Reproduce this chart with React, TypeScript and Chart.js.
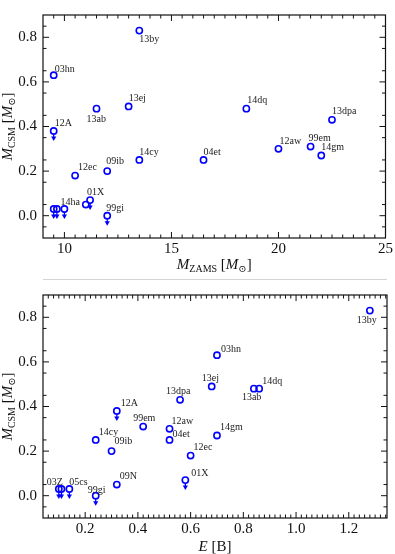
import React, { useEffect, useRef } from "react";
import { Chart, registerables } from "chart.js";
Chart.register(...registerables);

// ---------- data ----------
// Top panel: M_ZAMS vs M_CSM
const topNames = ["13by", "03hn", "13ab", "13ej", "12A", "14dq", "13dpa", "12aw", "99em", "14gm", "04et", "14cy", "09ib", "12ec", "01X", "", "99gi", "", "", "14ha"];
const topMzams = [13.5, 9.5, 11.5, 13.0, 9.5, 18.5, 22.5, 20.0, 21.5, 22.0, 16.5, 13.5, 12.0, 10.5, 11.2, 11.0, 12.0, 9.5, 9.65, 10.0];
const topMcsm = [0.83, 0.63, 0.48, 0.49, 0.38, 0.48, 0.43, 0.30, 0.31, 0.27, 0.25, 0.25, 0.20, 0.18, 0.07, 0.05, 0.0, 0.03, 0.03, 0.03];
const topUpperLimit = [false, false, false, false, true, false, false, false, false, false, false, false, false, false, true, false, true, true, true, true];

// Bottom panel: E vs M_CSM
const botNames = ["13by", "03hn", "13ej", "13ab", "14dq", "13dpa", "12A", "99em", "12aw", "04et", "14cy", "09ib", "12ec", "14gm", "01X", "09N", "99gi", "03Z", "", "05cs"];
const botEnergy = [1.28, 0.70, 0.68, 0.84, 0.86, 0.56, 0.32, 0.42, 0.52, 0.52, 0.24, 0.30, 0.60, 0.70, 0.58, 0.32, 0.24, 0.10, 0.11, 0.14];
const botMcsm = [0.83, 0.63, 0.49, 0.48, 0.48, 0.43, 0.38, 0.31, 0.30, 0.25, 0.25, 0.20, 0.18, 0.27, 0.07, 0.05, 0.0, 0.03, 0.03, 0.03];
const botUpperLimit = [false, false, false, false, false, false, true, false, false, false, false, false, false, false, true, false, true, true, true, true];

// Axis ticks
const topXTicks = [10, 15, 20, 25];
const botXTicks = [0.2, 0.4, 0.6, 0.8, 1.0, 1.2];
const yTicks = [0.0, 0.2, 0.4, 0.6, 0.8];

// ---------- styles (label placement offsets in px: text left, baseline) ----------
const topLabelOffsets: [number, number][] = [
  [0, 11], [1, -3], [-10, 13], [0, -5], [1, -5], [1, -6], [0, -6], [1, -5], [-2, -6], [0, -5],
  [0, -5], [0, -5], [-1, -7], [3, -6], [-3, -5], [0, 0], [-1, -5], [0, 0], [0, 0], [-4, -4],
];
const botLabelOffsets: [number, number][] = [
  [-13, 12], [4, -3], [-10, -5], [-12, 11], [3, -5], [-14, -6], [4, -5], [-10, -6], [2, -5], [3, -3],
  [3, -5], [3, -7], [3, -6], [3, -5], [6, -4], [3, -6], [-8, -3], [-12, -4], [0, 0], [0, -4],
];

const SERIF = "'Liberation Serif', 'DejaVu Serif', serif";
const BLUE = "#0000ff";
const INK = "#111111";

type Seg = { t: string; italic?: boolean; size: number; dy?: number };

function range(a: number, b: number, step: number): number[] {
  const out: number[] = [];
  const n = Math.round((b - a) / step);
  for (let i = 0; i <= n; i++) out.push(+(a + i * step).toFixed(6));
  return out;
}

function drawSegs(ctx: CanvasRenderingContext2D, segs: Seg[], cx: number, baseline: number) {
  let total = 0;
  const widths = segs.map((s) => {
    ctx.font = `${s.italic ? "italic " : ""}${s.size}px ${SERIF}`;
    const w = ctx.measureText(s.t).width;
    total += w;
    return w;
  });
  let x = cx - total / 2;
  ctx.textAlign = "left";
  ctx.textBaseline = "alphabetic";
  ctx.fillStyle = INK;
  segs.forEach((s, i) => {
    ctx.font = `${s.italic ? "italic " : ""}${s.size}px ${SERIF}`;
    ctx.fillText(s.t, x, baseline + (s.dy || 0));
    x += widths[i];
  });
}

const decorPlugin = {
  id: "decor",
  afterDatasetsDraw(chart: any) {
    const o = chart.options.plugins.decor;
    const ctx: CanvasRenderingContext2D = chart.ctx;
    const { left, right, top, bottom } = chart.chartArea;
    const xs = chart.scales.x;
    const ys = chart.scales.y;
    const meta = chart.getDatasetMeta(0);

    ctx.save();
    // upper-limit arrows
    ctx.strokeStyle = BLUE;
    ctx.fillStyle = BLUE;
    ctx.lineWidth = 1.3;
    o.limits.forEach((lim: boolean, i: number) => {
      if (!lim) return;
      const p = meta.data[i];
      ctx.beginPath();
      ctx.moveTo(p.x, p.y + 3);
      ctx.lineTo(p.x, p.y + 6.5);
      ctx.stroke();
      ctx.beginPath();
      ctx.moveTo(p.x - 2.6, p.y + 5.5);
      ctx.lineTo(p.x + 2.6, p.y + 5.5);
      ctx.lineTo(p.x, p.y + 10);
      ctx.closePath();
      ctx.fill();
    });

    // point labels
    ctx.font = `10px ${SERIF}`;
    ctx.fillStyle = "#222";
    ctx.textAlign = "left";
    ctx.textBaseline = "alphabetic";
    o.names.forEach((n: string, i: number) => {
      if (!n) return;
      const p = meta.data[i];
      const [dx, dy] = o.offsets[i];
      ctx.fillText(n, p.x + dx, p.y + dy);
    });

    // frame
    ctx.strokeStyle = INK;
    ctx.lineWidth = 1.2;
    ctx.strokeRect(left, top, right - left, bottom - top);

    // ticks (inward, all four sides)
    ctx.lineWidth = 1;
    const tick = (vals: number[], len: number, horizontal: boolean) => {
      vals.forEach((v) => {
        ctx.beginPath();
        if (horizontal) {
          const px = xs.getPixelForValue(v);
          if (px < left - 0.5 || px > right + 0.5) return;
          ctx.moveTo(px, bottom);
          ctx.lineTo(px, bottom - len);
          ctx.moveTo(px, top);
          ctx.lineTo(px, top + len);
        } else {
          const py = ys.getPixelForValue(v);
          if (py < top - 0.5 || py > bottom + 0.5) return;
          ctx.moveTo(left, py);
          ctx.lineTo(left + len, py);
          ctx.moveTo(right, py);
          ctx.lineTo(right - len, py);
        }
        ctx.stroke();
      });
    };
    tick(o.xMajor, 6, true);
    tick(o.xMinor, 3.5, true);
    tick(yTicks, 6, false);
    tick(range(-0.05, 0.85, 0.1), 3.5, false);

    // axis titles
    drawSegs(ctx, o.xTitle, (left + right) / 2, o.xTitleBaseline);
    ctx.save();
    ctx.translate(12, (top + bottom) / 2);
    ctx.rotate(-Math.PI / 2);
    drawSegs(ctx, o.yTitle, 0, 0);
    ctx.restore();

    ctx.restore();
  },
};

const yTitle: Seg[] = [
  { t: "M", italic: true, size: 15 },
  { t: "CSM", size: 10, dy: 2.5 },
  { t: " [", size: 15 },
  { t: "M", italic: true, size: 15 },
  { t: "⊙", size: 10, dy: 2.5 },
  { t: "]", size: 15 },
];
const topXTitle: Seg[] = [
  { t: "M", italic: true, size: 15 },
  { t: "ZAMS", size: 10, dy: 2.5 },
  { t: " [", size: 15 },
  { t: "M", italic: true, size: 15 },
  { t: "⊙", size: 10, dy: 2.5 },
  { t: "]", size: 15 },
];
const botXTitle: Seg[] = [
  { t: "E", italic: true, size: 15 },
  { t: " [B]", size: 15 },
];

function buildConfig(p: {
  xs: number[];
  ys: number[];
  names: string[];
  offsets: [number, number][];
  limits: boolean[];
  xMin: number;
  xMax: number;
  xMajor: number[];
  xMinor: number[];
  xFmt: (v: number) => string;
  xTitle: Seg[];
  xTitleBaseline: number;
  xAxisHeight: number;
}): any {
  return {
    type: "scatter",
    data: {
      datasets: [
        {
          data: p.xs.map((x, i) => ({ x, y: p.ys[i] })),
          pointStyle: "circle",
          pointRadius: 3.1,
          pointBorderWidth: 1.6,
          pointBorderColor: BLUE,
          pointBackgroundColor: "rgba(255,255,255,0)",
          showLine: false,
        },
      ],
    },
    options: {
      animation: false,
      responsive: false,
      maintainAspectRatio: false,
      layout: { padding: { top: 1, right: 8, left: 0, bottom: 0 } },
      plugins: {
        legend: { display: false },
        tooltip: { enabled: false },
        decor: {
          names: p.names,
          offsets: p.offsets,
          limits: p.limits,
          xMajor: p.xMajor,
          xMinor: p.xMinor,
          xTitle: p.xTitle,
          yTitle,
          xTitleBaseline: p.xTitleBaseline,
        },
      },
      scales: {
        x: {
          type: "linear",
          min: p.xMin,
          max: p.xMax,
          grid: { display: false, drawTicks: false },
          border: { display: false },
          afterBuildTicks: (s: any) => {
            s.ticks = p.xMajor.map((v) => ({ value: v }));
          },
          afterFit: (s: any) => {
            s.height = p.xAxisHeight;
          },
          ticks: {
            padding: 2,
            maxRotation: 0,
            autoSkip: false,
            color: INK,
            font: { family: SERIF, size: 15 },
            callback: (v: any) => p.xFmt(Number(v)),
          },
        },
        y: {
          type: "linear",
          min: -0.1,
          max: 0.9,
          grid: { display: false, drawTicks: false },
          border: { display: false },
          afterBuildTicks: (s: any) => {
            s.ticks = yTicks.map((v) => ({ value: v }));
          },
          afterFit: (s: any) => {
            s.width = 43;
          },
          ticks: {
            padding: 6,
            autoSkip: false,
            color: INK,
            font: { family: SERIF, size: 15 },
            callback: (v: any) => Number(v).toFixed(1),
          },
        },
      },
    },
    plugins: [decorPlugin],
  };
}

function Panel(props: { cfg: () => any; top: number; height: number }) {
  const ref = useRef<HTMLCanvasElement | null>(null);
  useEffect(() => {
    if (!ref.current) return;
    const chart = new Chart(ref.current, props.cfg());
    return () => chart.destroy();
  }, []);
  return (
    <canvas
      ref={ref}
      width={395}
      height={props.height}
      style={{ position: "absolute", left: 0, top: props.top, width: 395, height: props.height }}
    />
  );
}

export default function App() {
  return (
    <div style={{ position: "fixed", left: 0, top: 0, width: 395, height: 554, background: "#fff", overflow: "hidden" }}>
      <Panel
        top={0}
        height={277}
        cfg={() =>
          buildConfig({
            xs: topMzams,
            ys: topMcsm,
            names: topNames,
            offsets: topLabelOffsets,
            limits: topUpperLimit,
            xMin: 9,
            xMax: 25,
            xMajor: topXTicks,
            xMinor: range(9.5, 24.5, 0.5).filter((v) => v % 5 !== 0),
            xFmt: (v) => String(Math.round(v)),
            xTitle: topXTitle,
            xTitleBaseline: 269,
            xAxisHeight: 39,
          })
        }
      />
      <div style={{ position: "absolute", left: 43, top: 279, width: 344, height: 1, background: "#d4d4d4" }} />
      <Panel
        top={280}
        height={274}
        cfg={() =>
          buildConfig({
            xs: botEnergy,
            ys: botMcsm,
            names: botNames,
            offsets: botLabelOffsets,
            limits: botUpperLimit,
            xMin: 0.04,
            xMax: 1.345,
            xMajor: botXTicks,
            xMinor: range(0.06, 1.34, 0.02).filter((v) => Math.abs(v / 0.2 - Math.round(v / 0.2)) > 1e-6),
            xFmt: (v) => v.toFixed(1),
            xTitle: botXTitle,
            xTitleBaseline: 271,
            xAxisHeight: 36,
          })
        }
      />
    </div>
  );
}
